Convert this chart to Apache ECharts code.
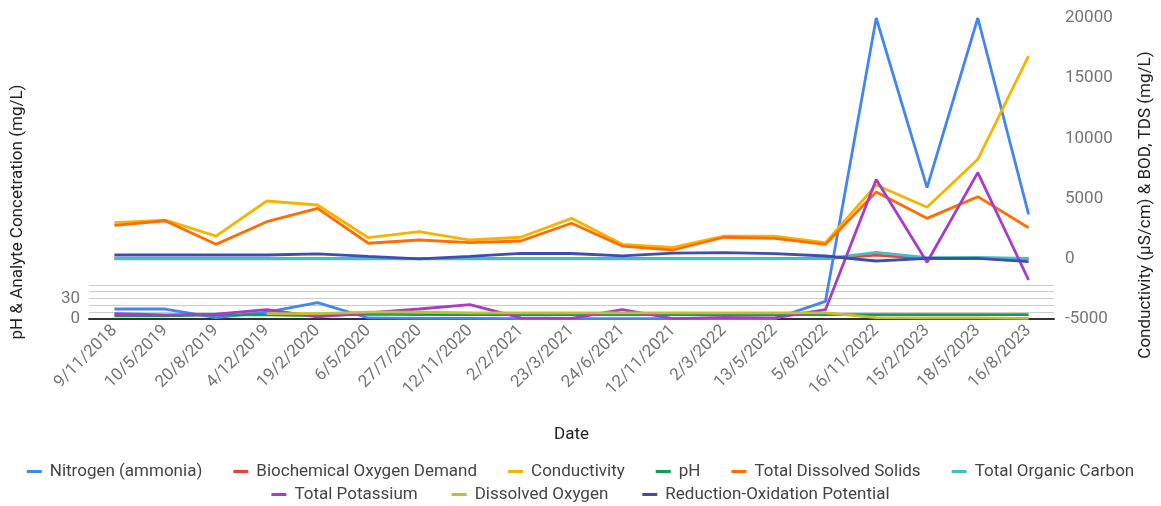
<!DOCTYPE html>
<html>
<head>
<meta charset="utf-8">
<script src="https://cdn.jsdelivr.net/npm/echarts@6/dist/echarts.min.js"></script>
<style>
  html, body { margin: 0; padding: 0; background: #fff; }
  #chart { width: 1161px; height: 506px; }
</style>
</head>
<body>
<div id="chart"></div>
<script>
// Sampling dates
const dates = ['9/11/2018', '10/5/2019', '20/8/2019', '4/12/2019', '19/2/2020', '6/5/2020',
  '27/7/2020', '12/11/2020', '2/2/2021', '23/3/2021', '24/6/2021', '12/11/2021', '2/3/2022',
  '13/5/2022', '5/8/2022', '16/11/2022', '15/2/2023', '18/5/2023', '16/8/2023'];

// Left axis: pH & analyte concentrations (mg/L)
const nitrogenAmmonia = [14.6, 14.6, 2, 10, 24, 1.5, 1, 1, 0.5, 0.5, 0.5, 0.5, 0.5, 0.5, 25.7, 440, 192, 440, 153];
const pH = [4.5, 4.5, 6, 6, 5, 7, 6.5, 6.5, 6.5, 6.5, 6.5, 6.5, 6.5, 6.5, 6.5, 6.5, 6.5, 6.5, 6.5];
const totalPotassium = [7.7, 6, 7, 13.6, 3, 9, 14.6, 20.9, 1.5, 1, 13.6, 0.5, 2.3, 1.5, 13.6, 204, 83, 214, 57];
const dissolvedOxygen = [null, null, null, 8, 8, 10, 10, 9, 9, 9, 9, 9, 9, 9, 9, 2, 1.5, 1.5, 1];

// Right axis: conductivity (µS/cm), BOD, TDS (mg/L) and others
const bod = [10, 10, 10, 10, 10, 10, 10, 10, 10, 10, 10, 10, 10, 10, 10, 300, 20, 10, 10];
const conductivity = [3000, 3220, 1890, 4800, 4470, 1750, 2250, 1560, 1790, 3360, 1200, 950, 1890, 1890, 1340, 6130, 4280, 8260, 16850];
const tds = [2780, 3160, 1200, 3080, 4190, 1290, 1560, 1340, 1480, 2950, 1060, 730, 1790, 1700, 1200, 5550, 3360, 5160, 2580];
const toc = [5, 5, 5, 5, 5, 5, 5, 5, 5, 5, 5, 5, 5, 5, 20, 540, 90, 125, 40];
const orp = [315, 315, 315, 315, 410, 200, 0, 200, 457, 440, 240, 470, 520, 430, 232, -183, 40, 40, -240];

// Tick labels kept on the left axis
const leftTickLabels = [0, 30];
// Minor left-axis guide lines
const leftGuides = [10, 20, 30, 40, 50];

const labelColor = '#757575';
const titleColor = '#222222';
const font = 'Roboto';
const fs = 17;

const seriesDefs = [
  ['Nitrogen (ammonia)', nitrogenAmmonia, '#4285F4', 0],
  ['Biochemical Oxygen Demand', bod, '#EA4335', 1],
  ['Conductivity', conductivity, '#F6B400', 1],
  ['pH', pH, '#0F9D58', 0],
  ['Total Dissolved Solids', tds, '#FF6D01', 1],
  ['Total Organic Carbon', toc, '#46BDC6', 1],
  ['Total Potassium', totalPotassium, '#A83BCB', 0],
  ['Dissolved Oxygen', dissolvedOxygen, '#C4BE2C', 0],
  ['Reduction-Oxidation Potential', orp, '#3D4DB0', 1]
];
const names = seriesDefs.map(d => d[0]);

function line(def, extra) {
  return Object.assign({
    name: def[0],
    type: 'line',
    yAxisIndex: def[3],
    data: def[1],
    showSymbol: false,
    symbol: 'none',
    lineStyle: { width: 2.8, color: def[2] },
    itemStyle: { color: def[2] },
    emphasis: { disabled: true }
  }, extra || {});
}

function legendRow(items, top, gap) {
  return {
    top: top,
    left: 'center',
    data: items,
    icon: 'rect',
    itemWidth: 15,
    itemHeight: 3,
    itemGap: gap,
    textStyle: { fontSize: fs, color: '#444', fontFamily: font, padding: [0, 0, 0, 3] }
  };
}

const chart = echarts.init(document.getElementById('chart'));
chart.setOption({
  animation: false,
  textStyle: { fontFamily: font },
  grid: { left: 89, right: 107, top: 18, bottom: 187 },
  legend: [legendRow(names.slice(0, 6), 458, 31), legendRow(names.slice(6), 481, 34)],
  xAxis: {
    type: 'category',
    data: dates,
    boundaryGap: true,
    axisLine: { lineStyle: { color: '#333', width: 2 } },
    axisTick: { show: false },
    axisLabel: { rotate: 45, color: labelColor, fontSize: fs, margin: 9, interval: 0 },
    name: 'Date',
    nameLocation: 'middle',
    nameGap: 107,
    nameTextStyle: { fontSize: fs, color: titleColor }
  },
  yAxis: [
    {
      type: 'value',
      min: 0,
      max: 440,
      interval: 10,
      position: 'left',
      splitLine: { show: false },
      axisLine: { show: false },
      axisTick: { show: false },
      axisLabel: {
        color: labelColor,
        fontSize: fs,
        margin: 9,
        formatter: v => leftTickLabels.indexOf(v) >= 0 ? String(v) : ''
      }
    },
    {
      type: 'value',
      min: -5000,
      max: 20000,
      interval: 5000,
      position: 'right',
      splitLine: { show: false },
      axisLine: { show: false },
      axisTick: { show: false },
      axisLabel: { color: labelColor, fontSize: fs, margin: 11, formatter: v => String(v) }
    }
  ],
  graphic: [
    {
      type: 'text', x: 18, y: 212, rotation: Math.PI / 2,
      style: { text: 'pH & Analyte Concetration (mg/L)', fontSize: fs, fill: titleColor,
        fontFamily: font, align: 'center', verticalAlign: 'middle' }
    },
    {
      type: 'text', x: 1146, y: 205, rotation: Math.PI / 2,
      style: { text: 'Conductivity (µS/cm) & BOD, TDS (mg/L)', fontSize: fs, fill: titleColor,
        fontFamily: font, align: 'center', verticalAlign: 'middle' }
    }
  ],
  series: seriesDefs.map((d, i) => line(d, i === 0 ? {
    markLine: {
      silent: true,
      z: 1,
      symbol: ['none', 'none'],
      label: { show: false },
      lineStyle: { color: '#cccccc', width: 1, type: 'solid' },
      emphasis: { disabled: true },
      data: leftGuides.map(v => ({ yAxis: v }))
    }
  } : null))
});
</script>
</body>
</html>
